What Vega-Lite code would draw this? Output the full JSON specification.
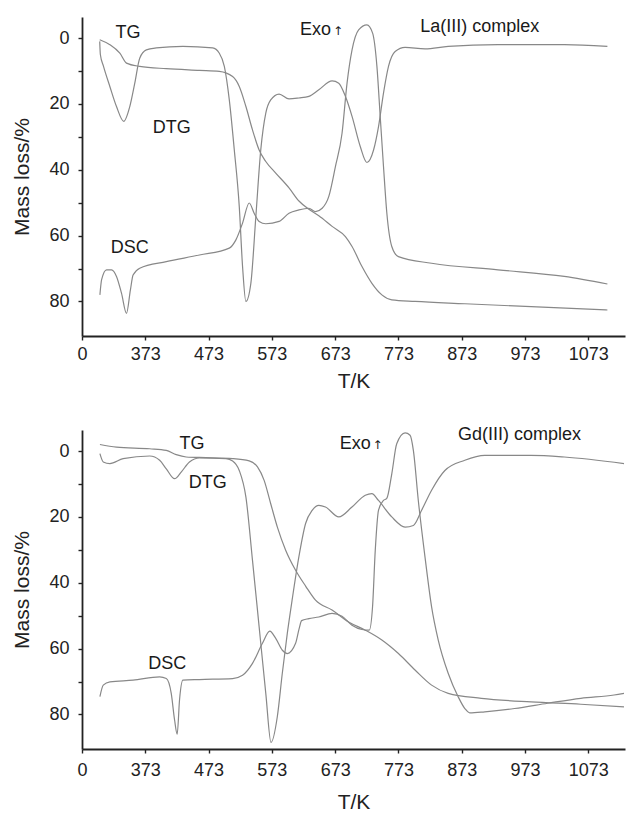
{
  "$schema": "https://vega.github.io/schema/vega-lite/v6.json",
  "background": "white",
  "padding": {"left": 11, "top": 17, "right": 0, "bottom": 0},
  "bounds": "flush",
  "spacing": 94,
  "config": {
    "view": {"stroke": null},
    "font": "Liberation Sans",
    "axis": {
      "domainColor": "#222222", "domainWidth": 1.8, "tickColor": "#222222", "tickWidth": 1.4, "tickSize": 4,
      "labelFont": "Liberation Sans", "labelFontSize": 18, "labelColor": "#222222",
      "titleFont": "Liberation Sans", "titleFontSize": 21, "titleFontWeight": "normal", "titleColor": "#222222",
      "grid": false
    },
    "axisY": {"labelPadding": 9, "titlePadding": 16},
    "axisX": {"labelFlush": false}
  },
  "datasets": {
    "curves": [
      {"p":"La","c":"DTG","T":301,"v":1},{"p":"La","c":"DTG","T":302,"v":5},{"p":"La","c":"DTG","T":307,"v":8.6},{"p":"La","c":"DTG","T":317,"v":14.7},{"p":"La","c":"DTG","T":327.5,"v":20.8},{"p":"La","c":"DTG","T":339,"v":25.3},{"p":"La","c":"DTG","T":348.5,"v":20.8},{"p":"La","c":"DTG","T":356.4,"v":13.7},{"p":"La","c":"DTG","T":364.2,"v":6.1},{"p":"La","c":"DTG","T":374.7,"v":3.6},{"p":"La","c":"DTG","T":390.4,"v":3.0},{"p":"La","c":"DTG","T":432.4,"v":2.5},{"p":"La","c":"DTG","T":479.5,"v":3.0},{"p":"La","c":"DTG","T":490,"v":4.6},{"p":"La","c":"DTG","T":497.9,"v":8.6},{"p":"La","c":"DTG","T":505.7,"v":18.7},{"p":"La","c":"DTG","T":513.6,"v":33.9},{"p":"La","c":"DTG","T":521.5,"v":51.2},{"p":"La","c":"DTG","T":526.7,"v":69.4},{"p":"La","c":"DTG","T":532,"v":80},{"p":"La","c":"DTG","T":539.8,"v":74.5},{"p":"La","c":"DTG","T":547.7,"v":54.2},{"p":"La","c":"DTG","T":555.5,"v":33.9},{"p":"La","c":"DTG","T":563.4,"v":22.8},{"p":"La","c":"DTG","T":571.2,"v":18.8},{"p":"La","c":"DTG","T":584.4,"v":17},{"p":"La","c":"DTG","T":600.1,"v":18.5},{"p":"La","c":"DTG","T":615.8,"v":18.2},{"p":"La","c":"DTG","T":631.5,"v":17.7},{"p":"La","c":"DTG","T":647.2,"v":15.7},{"p":"La","c":"DTG","T":668.2,"v":13},{"p":"La","c":"DTG","T":678.7,"v":13.7},{"p":"La","c":"DTG","T":689.2,"v":17.7},{"p":"La","c":"DTG","T":699.7,"v":23.8},{"p":"La","c":"DTG","T":712.8,"v":33},{"p":"La","c":"DTG","T":723.2,"v":37.8},{"p":"La","c":"DTG","T":733.7,"v":34},{"p":"La","c":"DTG","T":741.6,"v":26.8},{"p":"La","c":"DTG","T":749.4,"v":16.7},{"p":"La","c":"DTG","T":757.3,"v":8.6},{"p":"La","c":"DTG","T":767.8,"v":4.1},{"p":"La","c":"DTG","T":783.5,"v":2.8},{"p":"La","c":"DTG","T":815,"v":3.3},{"p":"La","c":"DTG","T":851.6,"v":2.5},{"p":"La","c":"DTG","T":930.3,"v":2.0},{"p":"La","c":"DTG","T":1035.1,"v":2.0},{"p":"La","c":"DTG","T":1103.2,"v":2.5},

      {"p":"La","c":"TG","T":301,"v":0.5},{"p":"La","c":"TG","T":317,"v":2.0},{"p":"La","c":"TG","T":332.8,"v":4.6},{"p":"La","c":"TG","T":343.3,"v":7.6},{"p":"La","c":"TG","T":364.2,"v":8.6},{"p":"La","c":"TG","T":406.2,"v":9.3},{"p":"La","c":"TG","T":458.6,"v":9.8},{"p":"La","c":"TG","T":490,"v":10.1},{"p":"La","c":"TG","T":511,"v":11.7},{"p":"La","c":"TG","T":521.5,"v":14.7},{"p":"La","c":"TG","T":532,"v":20.8},{"p":"La","c":"TG","T":542.4,"v":27.9},{"p":"La","c":"TG","T":552.9,"v":34},{"p":"La","c":"TG","T":563.4,"v":37.5},{"p":"La","c":"TG","T":579.1,"v":41},{"p":"La","c":"TG","T":600.1,"v":45.5},{"p":"La","c":"TG","T":615.8,"v":49.5},{"p":"La","c":"TG","T":631.5,"v":52},{"p":"La","c":"TG","T":647.2,"v":54},{"p":"La","c":"TG","T":668.2,"v":57.2},{"p":"La","c":"TG","T":689.2,"v":60.3},{"p":"La","c":"TG","T":699.7,"v":63.3},{"p":"La","c":"TG","T":715.4,"v":69.4},{"p":"La","c":"TG","T":731.1,"v":74.5},{"p":"La","c":"TG","T":746.8,"v":78},{"p":"La","c":"TG","T":762.5,"v":79.5},{"p":"La","c":"TG","T":799.2,"v":80},{"p":"La","c":"TG","T":877.9,"v":80.7},{"p":"La","c":"TG","T":982.7,"v":81.6},{"p":"La","c":"TG","T":1103.2,"v":82.6},

      {"p":"La","c":"DSC","T":301.3,"v":78},{"p":"La","c":"DSC","T":304,"v":73.4},{"p":"La","c":"DSC","T":311.8,"v":70.4},{"p":"La","c":"DSC","T":319.7,"v":70.4},{"p":"La","c":"DSC","T":327.5,"v":72.4},{"p":"La","c":"DSC","T":335.4,"v":77.5},{"p":"La","c":"DSC","T":343.3,"v":83.6},{"p":"La","c":"DSC","T":349.5,"v":76.5},{"p":"La","c":"DSC","T":353.7,"v":72},{"p":"La","c":"DSC","T":364.2,"v":69.9},{"p":"La","c":"DSC","T":406.2,"v":67.9},{"p":"La","c":"DSC","T":458.6,"v":65.9},{"p":"La","c":"DSC","T":505.7,"v":63.8},{"p":"La","c":"DSC","T":516.2,"v":61.3},{"p":"La","c":"DSC","T":526.7,"v":56.2},{"p":"La","c":"DSC","T":537.2,"v":50.1},{"p":"La","c":"DSC","T":545,"v":53.2},{"p":"La","c":"DSC","T":552.9,"v":55.7},{"p":"La","c":"DSC","T":563.4,"v":56.4},{"p":"La","c":"DSC","T":584.4,"v":55.7},{"p":"La","c":"DSC","T":600.1,"v":53.2},{"p":"La","c":"DSC","T":615.8,"v":52.2},{"p":"La","c":"DSC","T":631.5,"v":51.7},{"p":"La","c":"DSC","T":642,"v":52.7},{"p":"La","c":"DSC","T":652.5,"v":51.7},{"p":"La","c":"DSC","T":663,"v":48.1},{"p":"La","c":"DSC","T":673.5,"v":39},{"p":"La","c":"DSC","T":683.9,"v":28.9},{"p":"La","c":"DSC","T":691.8,"v":13.7},{"p":"La","c":"DSC","T":699.7,"v":3.6},{"p":"La","c":"DSC","T":710.1,"v":-2.5},{"p":"La","c":"DSC","T":723.2,"v":-4},{"p":"La","c":"DSC","T":732.2,"v":-1.5},{"p":"La","c":"DSC","T":739,"v":8.6},{"p":"La","c":"DSC","T":744.2,"v":23.8},{"p":"La","c":"DSC","T":749.4,"v":39},{"p":"La","c":"DSC","T":754.7,"v":53.2},{"p":"La","c":"DSC","T":762.5,"v":63.3},{"p":"La","c":"DSC","T":773,"v":66.4},{"p":"La","c":"DSC","T":825.4,"v":68.4},{"p":"La","c":"DSC","T":930.3,"v":70.4},{"p":"La","c":"DSC","T":1035.1,"v":72.4},{"p":"La","c":"DSC","T":1103.2,"v":74.7},

      {"p":"Gd","c":"DTG","T":301.3,"v":0.8},{"p":"Gd","c":"DTG","T":306.6,"v":3.3},{"p":"Gd","c":"DTG","T":317.1,"v":3.8},{"p":"Gd","c":"DTG","T":338,"v":2.3},{"p":"Gd","c":"DTG","T":380,"v":1.5},{"p":"Gd","c":"DTG","T":395.7,"v":2.8},{"p":"Gd","c":"DTG","T":406.2,"v":5.4},{"p":"Gd","c":"DTG","T":419.3,"v":8.4},{"p":"Gd","c":"DTG","T":429.7,"v":6.4},{"p":"Gd","c":"DTG","T":442.8,"v":3.3},{"p":"Gd","c":"DTG","T":458.6,"v":2.1},{"p":"Gd","c":"DTG","T":500.5,"v":2.3},{"p":"Gd","c":"DTG","T":511,"v":3.0},{"p":"Gd","c":"DTG","T":521.5,"v":5.9},{"p":"Gd","c":"DTG","T":532,"v":14},{"p":"Gd","c":"DTG","T":542.4,"v":33.2},{"p":"Gd","c":"DTG","T":552.9,"v":53.4},{"p":"Gd","c":"DTG","T":563.4,"v":73.6},{"p":"Gd","c":"DTG","T":571.7,"v":88.5},{"p":"Gd","c":"DTG","T":581.6,"v":80.7},{"p":"Gd","c":"DTG","T":589.5,"v":67.5},{"p":"Gd","c":"DTG","T":597.4,"v":55.4},{"p":"Gd","c":"DTG","T":605.2,"v":45},{"p":"Gd","c":"DTG","T":615.8,"v":32},{"p":"Gd","c":"DTG","T":626.3,"v":22},{"p":"Gd","c":"DTG","T":636.7,"v":18},{"p":"Gd","c":"DTG","T":647.2,"v":16.5},{"p":"Gd","c":"DTG","T":657.7,"v":17},{"p":"Gd","c":"DTG","T":678.7,"v":20},{"p":"Gd","c":"DTG","T":699.6,"v":17},{"p":"Gd","c":"DTG","T":720.6,"v":13.4},{"p":"Gd","c":"DTG","T":731,"v":12.9},{"p":"Gd","c":"DTG","T":741.5,"v":15},{"p":"Gd","c":"DTG","T":762.5,"v":20},{"p":"Gd","c":"DTG","T":783.5,"v":23.1},{"p":"Gd","c":"DTG","T":796.6,"v":22.6},{"p":"Gd","c":"DTG","T":809.6,"v":18},{"p":"Gd","c":"DTG","T":825.4,"v":11.9},{"p":"Gd","c":"DTG","T":846.4,"v":5.9},{"p":"Gd","c":"DTG","T":877.9,"v":2.8},{"p":"Gd","c":"DTG","T":909.3,"v":1.3},{"p":"Gd","c":"DTG","T":982.6,"v":1.3},{"p":"Gd","c":"DTG","T":1035.1,"v":1.8},{"p":"Gd","c":"DTG","T":1129.4,"v":3.8},

      {"p":"Gd","c":"TG","T":301.3,"v":-2},{"p":"Gd","c":"TG","T":327.5,"v":-1.2},{"p":"Gd","c":"TG","T":380,"v":-0.7},{"p":"Gd","c":"TG","T":406.2,"v":-0.2},{"p":"Gd","c":"TG","T":421.9,"v":1.1},{"p":"Gd","c":"TG","T":437.6,"v":1.8},{"p":"Gd","c":"TG","T":469,"v":2.0},{"p":"Gd","c":"TG","T":511,"v":2.3},{"p":"Gd","c":"TG","T":537.2,"v":3.0},{"p":"Gd","c":"TG","T":550.3,"v":4.8},{"p":"Gd","c":"TG","T":560.8,"v":8.9},{"p":"Gd","c":"TG","T":571.2,"v":16},{"p":"Gd","c":"TG","T":581.7,"v":23.1},{"p":"Gd","c":"TG","T":594.8,"v":30.1},{"p":"Gd","c":"TG","T":610.5,"v":36.2},{"p":"Gd","c":"TG","T":626.3,"v":41},{"p":"Gd","c":"TG","T":642,"v":45.3},{"p":"Gd","c":"TG","T":668.1,"v":48.3},{"p":"Gd","c":"TG","T":694.3,"v":51.9},{"p":"Gd","c":"TG","T":720.6,"v":54.4},{"p":"Gd","c":"TG","T":746.8,"v":57.4},{"p":"Gd","c":"TG","T":773,"v":61.5},{"p":"Gd","c":"TG","T":799.2,"v":66.5},{"p":"Gd","c":"TG","T":825.4,"v":71.1},{"p":"Gd","c":"TG","T":851.6,"v":73.6},{"p":"Gd","c":"TG","T":904,"v":75.1},{"p":"Gd","c":"TG","T":982.6,"v":76.2},{"p":"Gd","c":"TG","T":1061.2,"v":76.9},{"p":"Gd","c":"TG","T":1129.4,"v":77.7},

      {"p":"Gd","c":"DSC","T":301.3,"v":74.6},{"p":"Gd","c":"DSC","T":306.6,"v":71.1},{"p":"Gd","c":"DSC","T":317.1,"v":70.1},{"p":"Gd","c":"DSC","T":353.7,"v":69.6},{"p":"Gd","c":"DSC","T":395.7,"v":68.6},{"p":"Gd","c":"DSC","T":406.2,"v":69.1},{"p":"Gd","c":"DSC","T":414,"v":73.6},{"p":"Gd","c":"DSC","T":419.3,"v":81.7},{"p":"Gd","c":"DSC","T":423.4,"v":86},{"p":"Gd","c":"DSC","T":427.1,"v":75.6},{"p":"Gd","c":"DSC","T":432.4,"v":69.6},{"p":"Gd","c":"DSC","T":458.6,"v":69.4},{"p":"Gd","c":"DSC","T":511,"v":69.1},{"p":"Gd","c":"DSC","T":526.7,"v":68.1},{"p":"Gd","c":"DSC","T":542.4,"v":64.5},{"p":"Gd","c":"DSC","T":558.1,"v":58.4},{"p":"Gd","c":"DSC","T":569.7,"v":54.7},{"p":"Gd","c":"DSC","T":579.1,"v":56.9},{"p":"Gd","c":"DSC","T":589.6,"v":60.5},{"p":"Gd","c":"DSC","T":597.4,"v":61.5},{"p":"Gd","c":"DSC","T":610.5,"v":58.4},{"p":"Gd","c":"DSC","T":616,"v":54},{"p":"Gd","c":"DSC","T":620,"v":51.5},{"p":"Gd","c":"DSC","T":631.5,"v":50.9},{"p":"Gd","c":"DSC","T":647.2,"v":50.4},{"p":"Gd","c":"DSC","T":668.1,"v":49.3},{"p":"Gd","c":"DSC","T":683.8,"v":50.2},{"p":"Gd","c":"DSC","T":699.6,"v":52.9},{"p":"Gd","c":"DSC","T":715.3,"v":54.2},{"p":"Gd","c":"DSC","T":726.9,"v":54.4},{"p":"Gd","c":"DSC","T":732.1,"v":47.3},{"p":"Gd","c":"DSC","T":736.4,"v":30.1},{"p":"Gd","c":"DSC","T":741.5,"v":18},{"p":"Gd","c":"DSC","T":749.4,"v":15},{"p":"Gd","c":"DSC","T":754.6,"v":14.4},{"p":"Gd","c":"DSC","T":762.5,"v":6.9},{"p":"Gd","c":"DSC","T":770.3,"v":-2.2},{"p":"Gd","c":"DSC","T":783.5,"v":-5.5},{"p":"Gd","c":"DSC","T":791.4,"v":-4.8},{"p":"Gd","c":"DSC","T":796.6,"v":-0.2},{"p":"Gd","c":"DSC","T":804.4,"v":15},{"p":"Gd","c":"DSC","T":815,"v":32.2},{"p":"Gd","c":"DSC","T":825.4,"v":47.3},{"p":"Gd","c":"DSC","T":835.9,"v":57.4},{"p":"Gd","c":"DSC","T":851.6,"v":67.5},{"p":"Gd","c":"DSC","T":867.3,"v":74.6},{"p":"Gd","c":"DSC","T":877.9,"v":78.2},{"p":"Gd","c":"DSC","T":885.7,"v":79.5},{"p":"Gd","c":"DSC","T":909.3,"v":79.2},{"p":"Gd","c":"DSC","T":956.5,"v":78.2},{"p":"Gd","c":"DSC","T":1008.8,"v":76.6},{"p":"Gd","c":"DSC","T":1061.2,"v":75.1},{"p":"Gd","c":"DSC","T":1113.7,"v":74.1},{"p":"Gd","c":"DSC","T":1129.4,"v":73.6}
    ],
    "notes": [
      {"p":"La","s":"TG","T":345.8,"v":-1.5},{"p":"La","s":"DTG","T":415,"v":27.4},{"p":"La","s":"DSC","T":348.5,"v":63.9},{"p":"La","s":"Exo","T":642,"v":-2.5},{"p":"La","s":"↑","T":677.6,"v":-2.0},{"p":"La","s":"La(III) complex","T":901.4,"v":-3.5},
      {"p":"Gd","s":"TG","T":447,"v":-2.2},{"p":"Gd","s":"DTG","T":471.6,"v":9.7},{"p":"Gd","s":"DSC","T":407.7,"v":64.8},{"p":"Gd","s":"Exo","T":704.9,"v":-2.2},{"p":"Gd","s":"↑","T":740,"v":-1.7},{"p":"Gd","s":"Gd(III) complex","T":964.3,"v":-5.0}
    ]
  },
  "vconcat": [
    {
      "width": 543, "height": 319,
      "encoding": {
        "x": {"field": "T", "type": "quantitative", "scale": {"domain": [273, 1131], "nice": false, "zero": false},
              "axis": {"values": [273,373,473,573,673,773,873,973,1073], "format": "d", "labelExpr": "datum.value == 273 ? '0' : datum.label", "title": "T/K", "labelPadding": 5, "titlePadding": 7}},
        "y": {"field": "v", "type": "quantitative", "scale": {"domain": [-6.4, 90.5], "reverse": true, "nice": false, "zero": false},
              "axis": {"values": [0,10,20,30,40,50,60,70,80], "labelExpr": "datum.value % 20 == 0 ? datum.label : ''", "title": "Mass loss/%"}}
      },
      "layer": [
        {"data": {"name": "curves"}, "transform": [{"filter": "datum.p == 'La'"}],
         "mark": {"type": "line", "color": "#888888", "strokeWidth": 1.2, "interpolate": "monotone"},
         "encoding": {"detail": {"field": "c"}}},
        {"data": {"name": "notes"}, "transform": [{"filter": "datum.p == 'La' && datum.s != '↑'"}],
         "mark": {"type": "text", "fontSize": 18, "font": "Liberation Sans", "color": "#1a1a1a", "align": "center", "baseline": "middle"},
         "encoding": {"text": {"field": "s"}}},
        {"data": {"name": "notes"}, "transform": [{"filter": "datum.p == 'La' && datum.s == '↑'"}],
         "mark": {"type": "text", "fontSize": 12, "font": "DejaVu Sans", "color": "#1a1a1a", "align": "center", "baseline": "middle"},
         "encoding": {"text": {"field": "s"}}}
      ]
    },
    {
      "width": 543, "height": 319,
      "encoding": {
        "x": {"field": "T", "type": "quantitative", "scale": {"domain": [273, 1131], "nice": false, "zero": false},
              "axis": {"values": [273,373,473,573,673,773,873,973,1073], "format": "d", "labelExpr": "datum.value == 273 ? '0' : datum.label", "title": "T/K", "labelPadding": 8, "titlePadding": 12}},
        "y": {"field": "v", "type": "quantitative", "scale": {"domain": [-6.4, 90.5], "reverse": true, "nice": false, "zero": false},
              "axis": {"values": [0,10,20,30,40,50,60,70,80], "labelExpr": "datum.value % 20 == 0 ? datum.label : ''", "title": "Mass loss/%"}}
      },
      "layer": [
        {"data": {"name": "curves"}, "transform": [{"filter": "datum.p == 'Gd'"}],
         "mark": {"type": "line", "color": "#888888", "strokeWidth": 1.2, "interpolate": "monotone"},
         "encoding": {"detail": {"field": "c"}}},
        {"data": {"name": "notes"}, "transform": [{"filter": "datum.p == 'Gd' && datum.s != '↑'"}],
         "mark": {"type": "text", "fontSize": 18, "font": "Liberation Sans", "color": "#1a1a1a", "align": "center", "baseline": "middle"},
         "encoding": {"text": {"field": "s"}}},
        {"data": {"name": "notes"}, "transform": [{"filter": "datum.p == 'Gd' && datum.s == '↑'"}],
         "mark": {"type": "text", "fontSize": 12, "font": "DejaVu Sans", "color": "#1a1a1a", "align": "center", "baseline": "middle"},
         "encoding": {"text": {"field": "s"}}}
      ]
    }
  ]
}
